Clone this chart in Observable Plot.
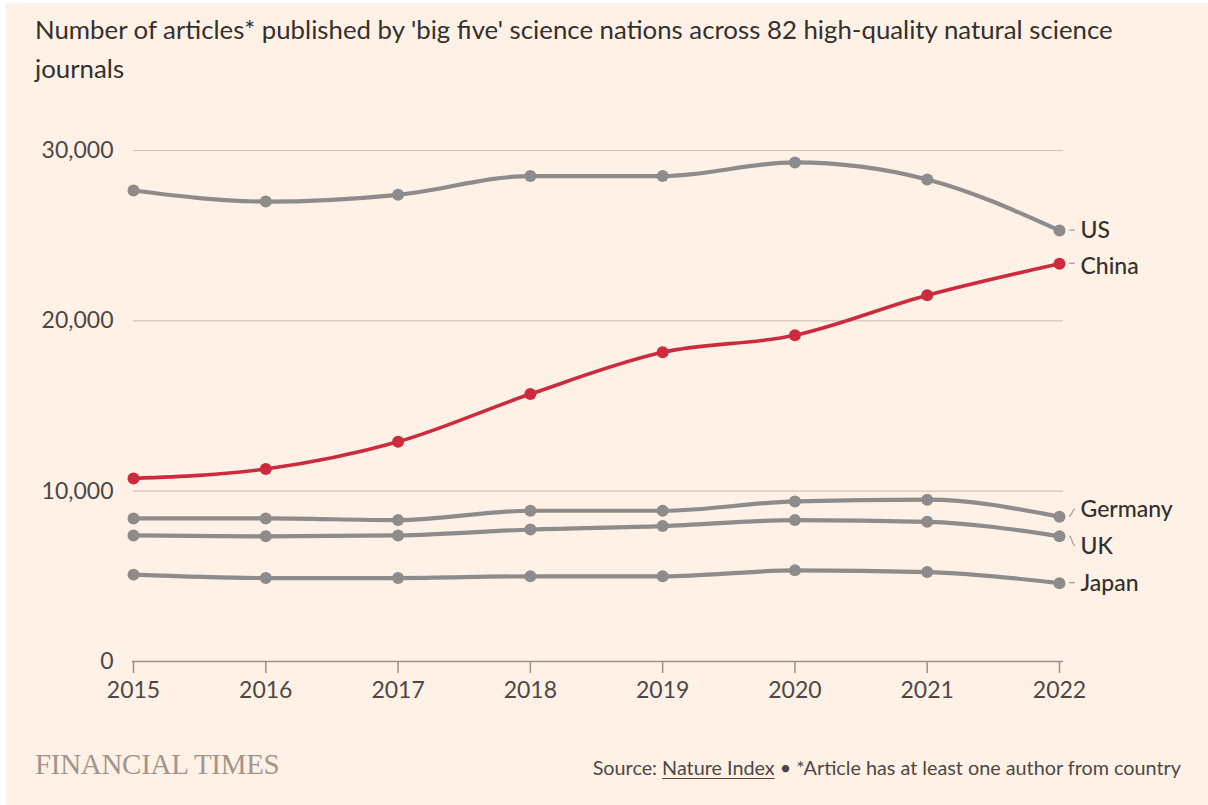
<!DOCTYPE html>
<html>
<head>
<meta charset="utf-8">
<script src="https://cdn.jsdelivr.net/npm/d3@7"></script>
<script src="https://cdn.jsdelivr.net/npm/@observablehq/plot@0.6"></script>
<style>
  html, body { margin: 0; padding: 0; background: #ffffff; }
  #frame { position: absolute; left: 6px; top: 3px; width: 1202px; height: 802px; background: #fff1e5; overflow: hidden; font-family: Lato, "Open Sans", sans-serif; color: #33302e; }
  #title { position: absolute; left: 29px; top: 7px; font-size: 25.8px; line-height: 39px; color: #33302e; white-space: nowrap; }
  #chart { position: absolute; left: -6px; top: 92px; }
  #brand { position: absolute; left: 29px; top: 745px; font-family: "Liberation Serif", "DejaVu Serif", serif; font-size: 29px; color: #a0958f; letter-spacing: -0.3px; }
  #source { position: absolute; right: 27px; top: 752px; font-size: 19.8px; color: #4d4845; white-space: nowrap; }
  #source u { text-decoration-thickness: 1px; text-underline-offset: 3px; }
</style>
</head>
<body>
<div id="frame">
  <div id="title">Number of articles* published by 'big five' science nations across 82 high-quality natural science<br>journals</div>
  <div id="chart"></div>
  <div id="brand">FINANCIAL TIMES</div>
  <div id="source">Source: <u>Nature Index</u> • *Article has at least one author from country</div>
</div>
<script>
const years = [2015, 2016, 2017, 2018, 2019, 2020, 2021, 2022];
const countries = ["US", "China", "Germany", "UK", "Japan"];
const usValues      = [27650, 27000, 27400, 28500, 28500, 29300, 28300, 25300];
const chinaValues   = [10750, 11300, 12900, 15700, 18150, 19150, 21500, 23350];
const germanyValues = [8400, 8400, 8300, 8850, 8850, 9400, 9500, 8500];
const ukValues      = [7400, 7350, 7400, 7750, 7950, 8300, 8200, 7350];
const japanValues   = [5100, 4900, 4900, 5000, 5000, 5350, 5250, 4600];
const yTicks = [0, 10000, 20000, 30000];
const xTicks = years;

const seriesValues = [usValues, chinaValues, germanyValues, ukValues, japanValues];
const data = [];
countries.forEach((c, i) => years.forEach((y, j) => data.push({country: c, year: y, value: seriesValues[i][j]})));
const last = data.filter(d => d.year === 2022);

const GRAY = "#8d8c8b";
const RED = "#cc2b3e";
const colorOf = c => c === "China" ? RED : GRAY;
// label pixel nudges
const nudge = {US: 0, China: 3, Germany: -7, UK: 10, Japan: 0};

const leaders = (index, scales, values, dimensions) => {
  const g = document.createElementNS("http://www.w3.org/2000/svg", "g");
  last.forEach(d => {
    const x0 = scales.x(d.year) + 10, x1 = x0 + 6;
    const y0 = scales.y(d.value), y1 = y0 + nudge[d.country];
    const p = document.createElementNS("http://www.w3.org/2000/svg", "path");
    const dyy = y1 - y0;
    let path;
    if (Math.abs(dyy) < 5) path = `M${x0},${y0}L${x1},${y0}`;
    else path = `M${x0},${y0}C${x0 + 3},${y0} ${x0 + 3},${y1} ${x1},${y1}`;
    p.setAttribute("d", path);
    p.setAttribute("stroke", "#a8a19b");
    p.setAttribute("stroke-width", "1.3");
    p.setAttribute("fill", "none");
    g.appendChild(p);
  });
  return g;
};

const labelOpts = (dy) => ({x: "year", y: "value", text: "country", dx: 21, dy, textAnchor: "start", fill: "#33302e", fontSize: 23, fontWeight: 500});

const plot = Plot.plot({
  width: 1208,
  height: 615,
  marginLeft: 133,
  marginRight: 149,
  marginTop: 55,
  marginBottom: 49,
  style: {background: "transparent", fontFamily: "Lato, 'Open Sans', sans-serif", fontSize: "23px", color: "#4d4845"},
  x: {domain: [2015, 2022], ticks: xTicks, tickFormat: d => String(d), label: null},
  y: {domain: [0, 30000], ticks: yTicks, label: null},
  marks: [
    Plot.ruleY(yTicks.filter(t => t > 0), {stroke: "#cfc4ba", strokeWidth: 1.2, insetRight: -4}),
    Plot.ruleY([0], {stroke: "#9a918b", strokeWidth: 1.5, insetLeft: -1, insetRight: -4}),
    Plot.axisX({ticks: xTicks, tickSize: 12, tickPadding: 8, stroke: "#9a918b", strokeWidth: 1.5, fill: "#4d4845", fontSize: 23, label: null, tickFormat: d => String(d)}),
    Plot.axisY({ticks: yTicks, tickSize: 0, tickPadding: 20, fill: "#4d4845", fontSize: 23, label: null, tickFormat: d3.format(",")}),
    Plot.line(data.filter(d => d.country !== "China"), {x: "year", y: "value", z: "country", stroke: GRAY, strokeWidth: 4.2, curve: "monotone-x"}),
    Plot.line(data.filter(d => d.country === "China"), {x: "year", y: "value", stroke: RED, strokeWidth: 3.6, curve: "monotone-x"}),
    Plot.dot(data, {x: "year", y: "value", r: 6, fill: d => colorOf(d.country), stroke: "none"}),
    leaders,
    Plot.text(last.filter(d => d.country === "US" || d.country === "Japan"), labelOpts(0)),
    Plot.text(last.filter(d => d.country === "China"), labelOpts(3)),
    Plot.text(last.filter(d => d.country === "Germany"), labelOpts(-7)),
    Plot.text(last.filter(d => d.country === "UK"), labelOpts(10))
  ]
});
document.getElementById("chart").appendChild(plot);
</script>
</body>
</html>
